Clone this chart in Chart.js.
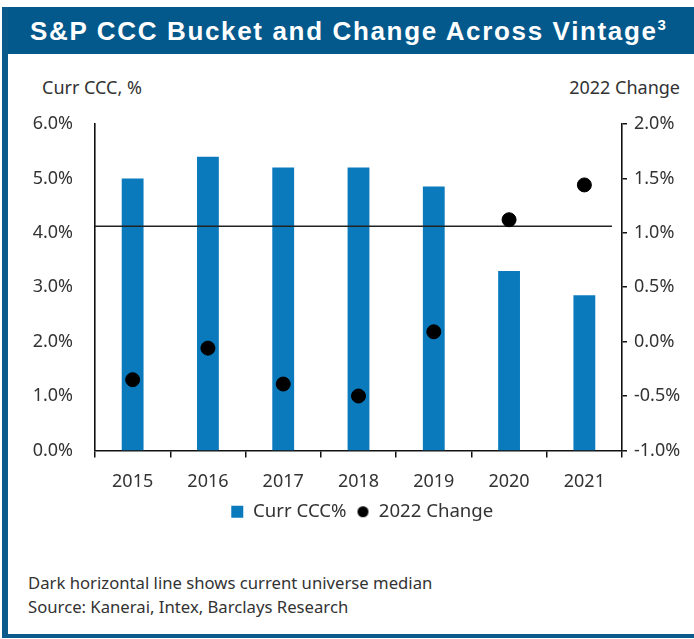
<!DOCTYPE html>
<html>
<head>
<meta charset="utf-8">
<script src="https://cdn.jsdelivr.net/npm/chart.js@4.4.1/dist/chart.umd.min.js"></script>
<style>
  html, body { margin: 0; padding: 0; background: #fff; }
  body { width: 694px; height: 639px; position: relative; overflow: hidden; font-family: "Noto Sans", sans-serif; }
  .bar-left { position: absolute; left: 2px; top: 7px; width: 6px; height: 631px; background: #0a5a8c; }
  .bar-bottom { position: absolute; left: 2px; top: 634px; width: 692px; height: 4px; background: #0a5a8c; }
  .title { position: absolute; left: 2px; top: 7px; width: 692px; height: 47px; background: #03588c;
           color: #fff; font: bold 26px "Liberation Sans", Arial, sans-serif; letter-spacing: 1.65px;
           line-height: 49px; text-align: center; white-space: nowrap; }
  .title sup { font-size: 15px; vertical-align: 0; position: relative; top: -10px; letter-spacing: 0; }
  .axis-title { position: absolute; top: 75px; font-size: 18px; color: #333; }
  .foot { position: absolute; left: 28px; font-size: 16.7px; color: #333; }
  #wrap { position: absolute; left: 8px; top: 60px; width: 686px; height: 480px; }
</style>
</head>
<body>
<div class="title">S&amp;P CCC Bucket and Change Across Vintage<sup>3</sup></div>
<div class="bar-left"></div>
<div class="bar-bottom"></div>
<div class="axis-title" style="left:42px;">Curr CCC, %</div>
<div class="axis-title" style="right:14px;">2022 Change</div>
<div id="wrap"><canvas id="c"></canvas></div>
<div class="foot" style="top:571px;">Dark horizontal line shows current universe median</div>
<div class="foot" style="top:595px;">Source: Kanerai, Intex, Barclays Research</div>
<script>
// Vintage years and series
const vintages = ['2015', '2016', '2017', '2018', '2019', '2020', '2021'];
const currCCC = [5.0, 5.4, 5.2, 5.2, 4.85, 3.3, 2.85];
const change2022 = [-0.35, -0.06, -0.39, -0.5, 0.09, 1.12, 1.44];
// Current universe median of the CCC bucket (left axis)
const universeMedian = 4.12;
const leftTicks = [0, 1, 2, 3, 4, 5, 6];
const rightTicks = [-1.0, -0.5, 0.0, 0.5, 1.0, 1.5, 2.0];

const BLUE = '#0b7abc';
const TEXT = '#333333';
const TICK_FONT = { family: '"Noto Sans", sans-serif', size: 18 };
const LEGEND_FONT = { family: '"Noto Sans", sans-serif', size: 18.6 };

// small circle marker for the legend entry of the dots
const dotIcon = document.createElement('canvas');
dotIcon.width = 13; dotIcon.height = 13;
(function () {
  const g = dotIcon.getContext('2d');
  g.fillStyle = '#000';
  g.beginPath(); g.arc(6.5, 6.5, 5.5, 0, Math.PI * 2); g.fill();
})();

new Chart(document.getElementById('c'), {
  type: 'bar',
  data: {
    labels: vintages,
    datasets: [
      {
        type: 'scatter',
        label: '2022 Change',
        data: change2022.map((v, i) => ({ x: vintages[i], y: v })),
        yAxisID: 'yR',
        xAxisID: 'x',
        backgroundColor: '#000',
        borderColor: '#000',
        pointRadius: 7,
        pointHoverRadius: 7,
        order: 1
      },
      {
        type: 'line',
        label: 'median',
        data: [{ x: 0, y: universeMedian }, { x: 0.981, y: universeMedian }],
        xAxisID: 'xm',
        yAxisID: 'yL',
        borderColor: '#222',
        borderWidth: 1.3,
        pointRadius: 0,
        fill: false,
        order: 2
      },
      {
        type: 'bar',
        label: 'Curr CCC%',
        data: currCCC,
        yAxisID: 'yL',
        xAxisID: 'x',
        backgroundColor: BLUE,
        grouped: false,
        barPercentage: 0.29,
        categoryPercentage: 1.0,
        order: 3
      }
    ]
  },
  options: {
    responsive: true,
    maintainAspectRatio: false,
    animation: false,
    events: [],
    layout: { padding: { top: 64, bottom: 9, left: 22, right: 0 } },
    plugins: {
      tooltip: { enabled: false },
      legend: {
        position: 'bottom',
        labels: {
          font: LEGEND_FONT,
          color: TEXT,
          usePointStyle: true,
          boxHeight: 12,
          boxWidth: 13,
          padding: 10,
          generateLabels: (chart) => {
            const order = ['Curr CCC%', '2022 Change'];
            return order.map((name) => {
              const i = chart.data.datasets.findIndex(d => d.label === name);
              const isBar = name === 'Curr CCC%';
              return {
                text: name,
                datasetIndex: i,
                fillStyle: isBar ? BLUE : '#000',
                strokeStyle: isBar ? BLUE : '#000',
                lineWidth: 0,
                fontColor: TEXT,
                pointStyle: isBar ? 'rect' : dotIcon,
                hidden: false
              };
            });
          }
        }
      }
    },
    scales: {
      x: {
        type: 'category',
        offset: true,
        grid: { display: true, drawOnChartArea: false, offset: true, color: '#111', lineWidth: 1.5, tickLength: 7 },
        border: { display: true, color: '#111', width: 1.6 },
        ticks: { font: TICK_FONT, color: TEXT, padding: 14 },
        afterFit: (s) => { s.height = 42; }
      },
      xm: {
        type: 'linear',
        display: false,
        offset: false,
        min: 0,
        max: 1
      },
      yL: {
        type: 'linear',
        position: 'left',
        min: 0,
        max: 6,
        afterBuildTicks: (s) => { s.ticks = leftTicks.map(v => ({ value: v })); },
        grid: { display: false },
        border: { display: true, color: '#111', width: 1.6 },
        ticks: { font: TICK_FONT, color: TEXT, padding: 14, callback: (v) => v.toFixed(1) + '%' },
        afterFit: (s) => { s.width = 65; }
      },
      yR: {
        type: 'linear',
        position: 'right',
        min: -1,
        max: 2,
        afterBuildTicks: (s) => { s.ticks = rightTicks.map(v => ({ value: v })); },
        grid: { display: true, drawOnChartArea: false, color: '#111', lineWidth: 1.5, tickLength: 5 },
        border: { display: true, color: '#111', width: 1.6 },
        ticks: { font: TICK_FONT, color: TEXT, padding: 7, callback: (v) => v.toFixed(1) + '%' },
        afterFit: (s) => { s.width = 72; }
      }
    }
  }
});
</script>
</body>
</html>
